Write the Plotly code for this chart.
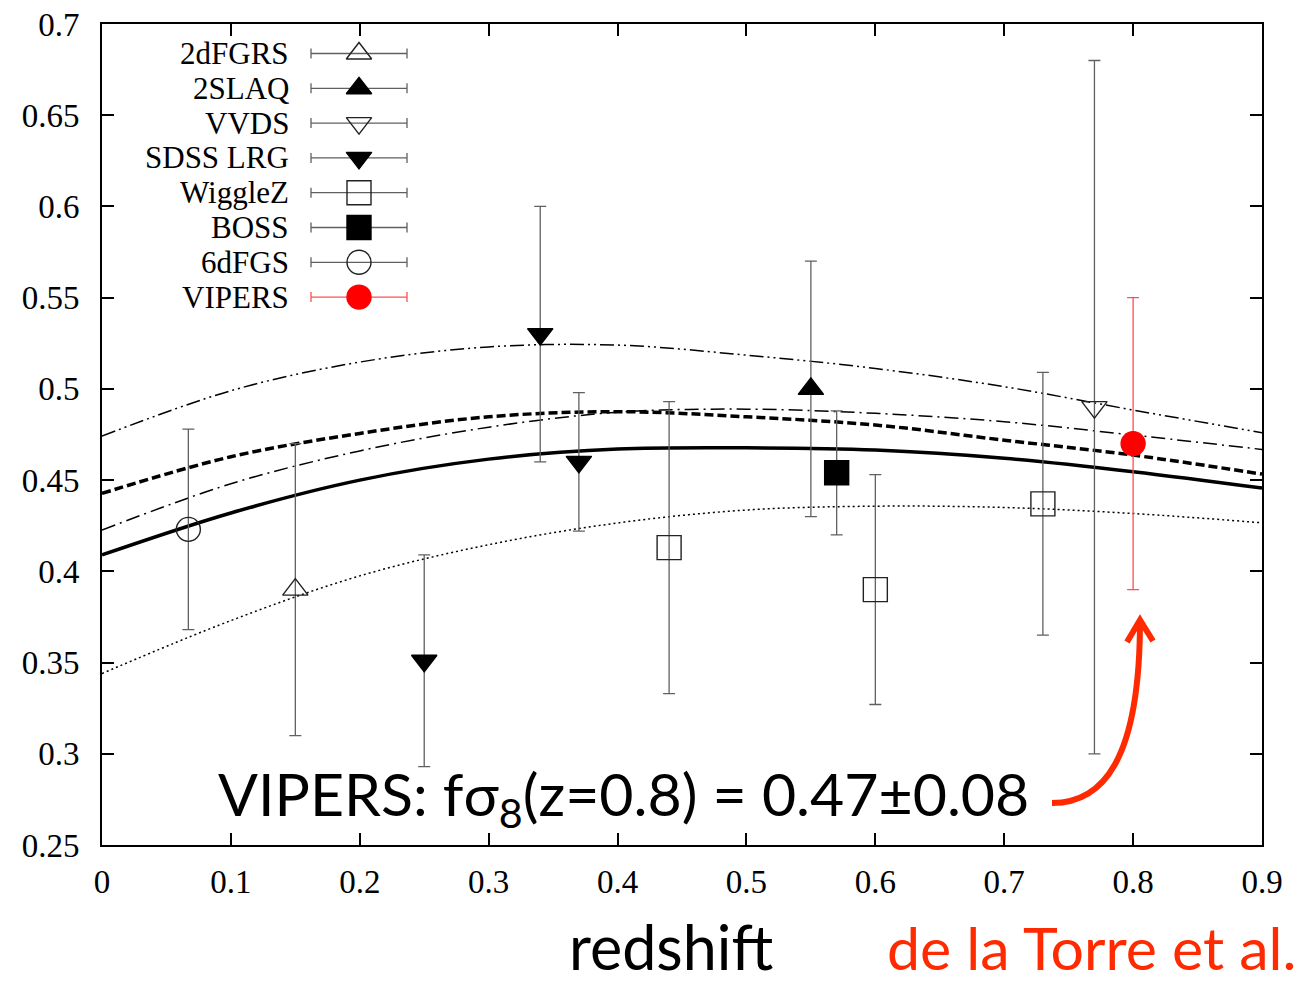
import plotly.graph_objects as go

# ---------------- data ----------------
z_2dfgrs = [0.15];  f_2dfgrs = [0.390]; e_2dfgrs = [0.080]
z_2slaq = [0.55];   f_2slaq = [0.500];  e_2slaq = [0.070]
z_vvds = [0.77];    f_vvds = [0.490];   e_vvds = [0.190]
z_sdss = [0.25, 0.34, 0.37]; f_sdss = [0.351, 0.530, 0.460]; e_sdss = [0.058, 0.070, 0.038]
z_wigglez = [0.44, 0.60, 0.73]; f_wigglez = [0.413, 0.390, 0.437]; e_wigglez = [0.080, 0.063, 0.072]
z_boss = [0.57];    f_boss = [0.454];   e_boss = [0.034]
z_6dfgs = [0.067];  f_6dfgs = [0.423];  e_6dfgs = [0.055]
z_vipers = [0.80];  f_vipers = [0.470]; e_vipers = [0.080]

z_model = [0.0, 0.1, 0.2, 0.3, 0.4, 0.5, 0.6, 0.7, 0.8, 0.9]
f_solid = [0.409, 0.432, 0.450, 0.4615, 0.467, 0.4677, 0.4665, 0.462, 0.4546, 0.4456]
f_dashed = [0.4427, 0.4628, 0.4756, 0.4847, 0.4875, 0.4847, 0.4802, 0.4719, 0.4637, 0.4533]
f_dashdot = [0.4226, 0.448, 0.466, 0.479, 0.4872, 0.4889, 0.4866, 0.482, 0.4747, 0.4668]
f_dashdotdot = [0.4741, 0.499, 0.5147, 0.523, 0.524, 0.5185, 0.5112, 0.5012, 0.4884, 0.476]
f_dotted = [0.344, 0.373, 0.3975, 0.4146, 0.4265, 0.4336, 0.4357, 0.435, 0.4317, 0.4266]

x_ticks = [0, 0.1, 0.2, 0.3, 0.4, 0.5, 0.6, 0.7, 0.8, 0.9]
x_ticklabels = ["0", "0.1", "0.2", "0.3", "0.4", "0.5", "0.6", "0.7", "0.8", "0.9"]
y_ticks = [0.25, 0.3, 0.35, 0.4, 0.45, 0.5, 0.55, 0.6, 0.65, 0.7]
y_ticklabels = ["0.25", "0.3", "0.35", "0.4", "0.45", "0.5", "0.55", "0.6", "0.65", "0.7"]

legend_names = ["2dFGRS", "2SLAQ", "VVDS", "SDSS LRG", "WiggleZ", "BOSS", "6dFGS", "VIPERS"]

# ---------------- layout constants ----------------
W, H = 1305, 986
L, R, T, B = 102, 1262, 24, 845
RED = "#ff2a00"
ERRC = "#606060"
MLC = "#222222"
SERIF = "Liberation Serif, Times New Roman, serif"
SANS = "Lato, Open Sans, sans-serif"

def px(xp):
    return (xp - L) / (R - L)

def py(yp):
    return (B - yp) / (B - T)

styles = {
    "2dFGRS": dict(symbol="triangle-up-open", size=22, color=MLC, err=ERRC),
    "2SLAQ": dict(symbol="triangle-up", size=22, color="black", err=ERRC),
    "VVDS": dict(symbol="triangle-down-open", size=22, color=MLC, err=ERRC),
    "SDSS LRG": dict(symbol="triangle-down", size=22, color="black", err=ERRC),
    "WiggleZ": dict(symbol="square-open", size=24, color=MLC, err=ERRC),
    "BOSS": dict(symbol="square", size=24, color="black", err=ERRC),
    "6dFGS": dict(symbol="circle-open", size=24, color=MLC, err=ERRC),
    "VIPERS": dict(symbol="circle", size=24, color="#ff0000", err="#ff5050"),
}

series = {
    "2dFGRS": (z_2dfgrs, f_2dfgrs, e_2dfgrs),
    "2SLAQ": (z_2slaq, f_2slaq, e_2slaq),
    "VVDS": (z_vvds, f_vvds, e_vvds),
    "SDSS LRG": (z_sdss, f_sdss, e_sdss),
    "WiggleZ": (z_wigglez, f_wigglez, e_wigglez),
    "BOSS": (z_boss, f_boss, e_boss),
    "6dFGS": (z_6dfgs, f_6dfgs, e_6dfgs),
    "VIPERS": (z_vipers, f_vipers, e_vipers),
}

fig = go.Figure()

# model curves
curves = [
    (f_dotted, 1.5, "2px,3px"),
    (f_dashdot, 1.5, "14px,5px,2px,5px"),
    (f_dashdotdot, 1.5, "14px,4px,2px,4px,2px,4px"),
    (f_dashed, 3.5, "9px,4px"),
    (f_solid, 3.5, "solid"),
]
for fvals, lw, dash in curves:
    fig.add_trace(go.Scatter(x=z_model, y=fvals, mode="lines",
                             line=dict(color="black", width=lw, dash=dash, shape="spline"),
                             showlegend=False, hoverinfo="skip"))

# data points
for name, (zz, ff, ee) in series.items():
    s = styles[name]
    fig.add_trace(go.Scatter(
        x=zz, y=ff, mode="markers", name=name, showlegend=False,
        marker=dict(symbol=s["symbol"], size=s["size"], color=s["color"],
                    line=dict(color=s["color"], width=1.4)),
        error_y=dict(type="data", array=ee, visible=True, color=s["err"],
                     thickness=1.3, width=6)))

# custom gnuplot-style key on an overlay axis in pixel units
key_x_text = 291
key_x_mark = 359
key_half = 48
key_y0 = 53.5
key_dy = 34.8
for i, name in enumerate(legend_names):
    s = styles[name]
    yk = key_y0 + i * key_dy
    fig.add_trace(go.Scatter(
        x=[key_x_mark], y=[yk], xaxis="x2", yaxis="y2", mode="markers",
        showlegend=False, hoverinfo="skip",
        marker=dict(symbol=s["symbol"], size=s["size"], color=s["color"],
                    line=dict(color=s["color"], width=1.4)),
        error_x=dict(type="constant", value=key_half, visible=True, color=s["err"],
                     thickness=1.3, width=5)))
    fig.add_annotation(x=key_x_text, y=yk, xref="x2", yref="y2", text=name,
                       showarrow=False, xanchor="right", yanchor="middle",
                       font=dict(family=SERIF, size=31, color="black"))

# texts
fig.add_annotation(x=px(623), y=py(797), xref="paper", yref="paper",
                   text="VIPERS: fσ<sub>8</sub>(z=0.8) = 0.47±0.08",
                   showarrow=False, xanchor="center", yanchor="middle",
                   font=dict(family=SANS, size=59, color="black"))
fig.add_annotation(x=px(671), y=py(985), xref="paper", yref="paper",
                   text="redshift", showarrow=False, xanchor="center", yanchor="bottom",
                   font=dict(family=SANS, size=61, color="black"))
fig.add_annotation(x=px(1298), y=py(985), xref="paper", yref="paper",
                   text="de la Torre et al.", showarrow=False, xanchor="right", yanchor="bottom",
                   font=dict(family=SANS, size=59, color=RED))

# curved red arrow
def pt(xp, yp):
    return f"{px(xp):.5f},{py(yp):.5f}"

arrow_path = f"M {pt(1052, 803)} C {pt(1102, 803)} {pt(1140, 762)} {pt(1140, 620)}"
head_path = f"M {pt(1127, 642)} L {pt(1140, 620)} L {pt(1153, 641)}"
fig.add_shape(type="path", path=arrow_path, xref="paper", yref="paper",
              line=dict(color=RED, width=6))
fig.add_shape(type="path", path=head_path, xref="paper", yref="paper",
              line=dict(color=RED, width=6))

axis_common = dict(showgrid=False, zeroline=False, showline=True, linecolor="black",
                   linewidth=2, mirror="allticks", ticks="inside", ticklen=12,
                   tickwidth=1.5, tickcolor="black", automargin=False,
                   tickfont=dict(family=SERIF, size=33, color="black"))

fig.update_layout(
    width=W, height=H,
    margin=dict(l=L, r=W - R, t=T, b=H - B, pad=0, autoexpand=False),
    paper_bgcolor="white", plot_bgcolor="white",
    showlegend=False,
    xaxis=dict(range=[0, 0.9], tickvals=x_ticks, ticktext=x_ticklabels,
               ticklabelstandoff=6, **axis_common),
    yaxis=dict(range=[0.25, 0.7], tickvals=y_ticks, ticktext=y_ticklabels,
               ticklabelstandoff=14, **axis_common),
    xaxis2=dict(range=[L, R], overlaying="x", visible=False, anchor="y2", automargin=False),
    yaxis2=dict(range=[B, T], overlaying="y", visible=False, anchor="x2", automargin=False),
)

fig.write_html("out.html")
